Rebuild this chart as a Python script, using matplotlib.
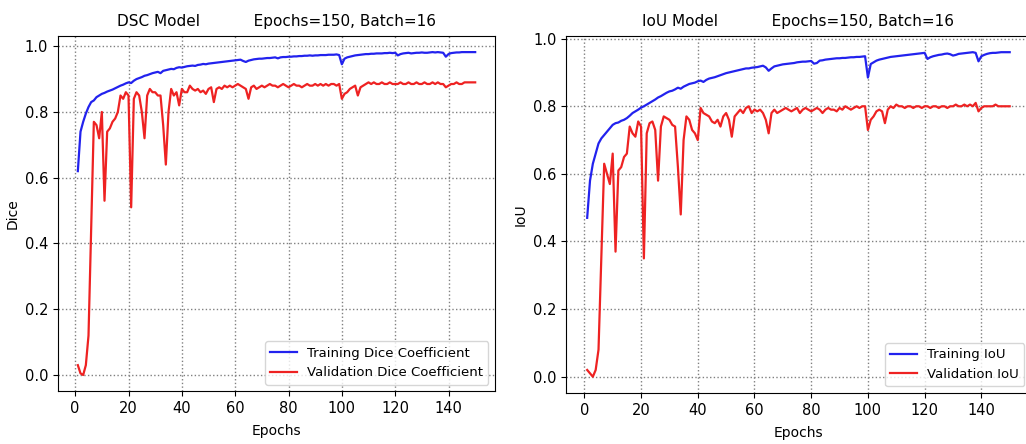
import numpy as np
from matplotlib import pyplot as plt

plt.rcParams['font.family'] = ['DejaVu Sans']
plt.rcParams['font.size'] = 10.5

epochs = np.arange(1, 151)

dsc_train = [
    0.62, 0.74, 0.77, 0.795, 0.815, 0.83, 0.835, 0.845, 0.85, 0.855,
    0.858, 0.862, 0.865, 0.868, 0.872, 0.876, 0.88, 0.883, 0.887, 0.89,
    0.888, 0.895, 0.9, 0.903, 0.906, 0.91, 0.912, 0.915, 0.918, 0.92,
    0.922, 0.918, 0.925, 0.927, 0.929, 0.931, 0.93, 0.934, 0.936, 0.935,
    0.937, 0.939, 0.94, 0.941, 0.94, 0.943, 0.944, 0.946, 0.945, 0.947,
    0.948, 0.949, 0.95, 0.951, 0.952, 0.953, 0.954, 0.955, 0.956, 0.957,
    0.958, 0.959, 0.955, 0.952, 0.956, 0.958, 0.96, 0.961, 0.962, 0.962,
    0.963, 0.964, 0.964, 0.965, 0.966, 0.963, 0.966, 0.967, 0.967, 0.968,
    0.968, 0.969, 0.969, 0.97, 0.97, 0.971, 0.971, 0.972, 0.971, 0.972,
    0.972, 0.973, 0.973, 0.973, 0.974, 0.974, 0.974, 0.975, 0.973, 0.945,
    0.962, 0.966, 0.968, 0.97, 0.972, 0.973, 0.974, 0.975, 0.976, 0.976,
    0.977, 0.977, 0.978, 0.978, 0.978, 0.979, 0.979, 0.98, 0.979, 0.98,
    0.972, 0.976, 0.978, 0.979, 0.98, 0.978, 0.979, 0.98, 0.98, 0.981,
    0.98, 0.98, 0.981, 0.982, 0.981, 0.982, 0.981, 0.98, 0.968, 0.976,
    0.979, 0.98, 0.981, 0.981, 0.982, 0.982, 0.982, 0.982, 0.982, 0.982,
]
dsc_val = [
    0.03, 0.005, 0.0, 0.03, 0.12, 0.45, 0.77, 0.76, 0.72, 0.80,
    0.53, 0.74, 0.75, 0.77, 0.78, 0.80, 0.85, 0.84, 0.86, 0.85,
    0.51, 0.84, 0.86, 0.85, 0.80, 0.72, 0.85, 0.87, 0.86, 0.86,
    0.85, 0.85, 0.76, 0.64, 0.80, 0.87, 0.85, 0.86, 0.82, 0.87,
    0.86, 0.86, 0.88, 0.87, 0.865, 0.87, 0.86, 0.865, 0.855, 0.87,
    0.875, 0.83, 0.87, 0.875, 0.87, 0.88, 0.875, 0.88, 0.875, 0.88,
    0.885, 0.88, 0.875, 0.87, 0.84, 0.875, 0.88, 0.87, 0.875, 0.88,
    0.875, 0.88, 0.885, 0.88, 0.88, 0.875, 0.88, 0.885, 0.88, 0.875,
    0.88, 0.885, 0.88, 0.88, 0.875, 0.88, 0.885, 0.88, 0.88, 0.885,
    0.88, 0.885, 0.88, 0.885, 0.88, 0.885, 0.885, 0.88, 0.885, 0.84,
    0.855, 0.86, 0.87, 0.875, 0.88, 0.85, 0.875, 0.88, 0.885, 0.89,
    0.885, 0.89, 0.885, 0.885, 0.89, 0.885, 0.885, 0.89, 0.885, 0.885,
    0.885, 0.89, 0.885, 0.885, 0.89, 0.885, 0.885, 0.89, 0.885, 0.885,
    0.89, 0.885, 0.885, 0.89, 0.885, 0.89, 0.885, 0.885, 0.875, 0.88,
    0.885, 0.885, 0.89, 0.885, 0.885, 0.89, 0.89, 0.89, 0.89, 0.89,
]
iou_train = [
    0.47, 0.58, 0.63, 0.66, 0.69, 0.705, 0.715, 0.725, 0.735, 0.745,
    0.75, 0.752, 0.757, 0.76, 0.765, 0.772, 0.78, 0.785, 0.79, 0.796,
    0.80, 0.805, 0.81, 0.815, 0.82, 0.826, 0.83, 0.835, 0.84, 0.844,
    0.846, 0.85, 0.855, 0.852, 0.858, 0.862, 0.866, 0.868, 0.87, 0.874,
    0.876, 0.872, 0.878, 0.882, 0.884, 0.886, 0.889, 0.892, 0.895, 0.898,
    0.9, 0.902, 0.904, 0.906, 0.908, 0.91, 0.912, 0.912, 0.914, 0.915,
    0.916, 0.918, 0.92, 0.915, 0.905, 0.912, 0.918, 0.92, 0.922, 0.924,
    0.925, 0.926, 0.927, 0.928, 0.93, 0.931, 0.932, 0.932, 0.933, 0.934,
    0.926, 0.928, 0.935, 0.936, 0.938, 0.939, 0.94, 0.941, 0.942, 0.942,
    0.943, 0.943, 0.944, 0.945, 0.945, 0.946, 0.946, 0.947, 0.948, 0.885,
    0.925, 0.93, 0.935, 0.938, 0.94, 0.942, 0.944, 0.946, 0.947, 0.948,
    0.949, 0.95, 0.951, 0.952, 0.953, 0.954, 0.955, 0.956, 0.957, 0.958,
    0.94, 0.945, 0.948, 0.95, 0.952, 0.953, 0.955, 0.956, 0.954, 0.95,
    0.952, 0.955, 0.956, 0.957, 0.958, 0.959, 0.96, 0.958, 0.933, 0.948,
    0.952, 0.955, 0.957, 0.958, 0.958, 0.959, 0.96, 0.96, 0.96, 0.96,
]
iou_val = [
    0.02, 0.01, 0.0, 0.02, 0.08, 0.35, 0.63, 0.60, 0.57, 0.66,
    0.37, 0.61, 0.62, 0.65, 0.66, 0.74, 0.72, 0.71, 0.755, 0.74,
    0.35, 0.72, 0.75, 0.755, 0.73, 0.58, 0.74, 0.77, 0.765, 0.76,
    0.745, 0.74, 0.62, 0.48, 0.70, 0.77, 0.76, 0.73, 0.72, 0.70,
    0.795, 0.78, 0.775, 0.77, 0.755, 0.75, 0.76, 0.74, 0.77, 0.78,
    0.76, 0.71, 0.77, 0.78, 0.79, 0.78, 0.795, 0.8, 0.78, 0.79,
    0.785, 0.79, 0.78, 0.76, 0.72, 0.78, 0.79, 0.78, 0.785, 0.79,
    0.795, 0.79, 0.785, 0.79, 0.795, 0.78, 0.79, 0.795, 0.79, 0.785,
    0.79, 0.795, 0.79, 0.78, 0.79, 0.795, 0.79, 0.79, 0.785, 0.795,
    0.79, 0.8, 0.795, 0.79, 0.795, 0.8, 0.795, 0.8, 0.8, 0.73,
    0.76, 0.77, 0.785, 0.79, 0.785, 0.75, 0.79, 0.80, 0.795, 0.805,
    0.80, 0.8, 0.795, 0.8, 0.8, 0.795, 0.8, 0.8, 0.795, 0.8,
    0.8, 0.795, 0.8, 0.8, 0.795, 0.8, 0.8, 0.795, 0.8, 0.8,
    0.805, 0.8, 0.8, 0.805, 0.8, 0.805, 0.8, 0.81, 0.785, 0.795,
    0.8, 0.8, 0.8, 0.8, 0.805, 0.8, 0.8, 0.8, 0.8, 0.8,
]

fig = plt.figure(figsize=(10.26, 4.44), dpi=100)
ax1 = fig.add_axes([0.0565, 0.119, 0.426, 0.80])
ax2 = fig.add_axes([0.5517, 0.115, 0.453, 0.804])

panels = [
    (ax1, dsc_train, dsc_val, 'DSC Model', 'Dice',
     'Training Dice Coefficient', 'Validation Dice Coefficient'),
    (ax2, iou_train, iou_val, 'IoU Model', 'IoU',
     'Training IoU', 'Validation IoU'),
]

for ax, tr, va, name, ylab, l1, l2 in panels:
    ax.plot(epochs, tr, color='#2222ee', lw=1.6, label=l1)
    ax.plot(epochs, va, color='#ee2222', lw=1.6, label=l2)
    ax.set_title(name + '           Epochs=150, Batch=16', fontsize=11, pad=7)
    ax.set_xlabel('Epochs', fontsize=10, labelpad=6)
    ax.set_ylabel(ylab, fontsize=10)
    ax.grid(True, linestyle=':', color='gray', linewidth=1)
    ax.legend(loc='lower right', fontsize=9.5)

plt.savefig('out.png', dpi=100)
